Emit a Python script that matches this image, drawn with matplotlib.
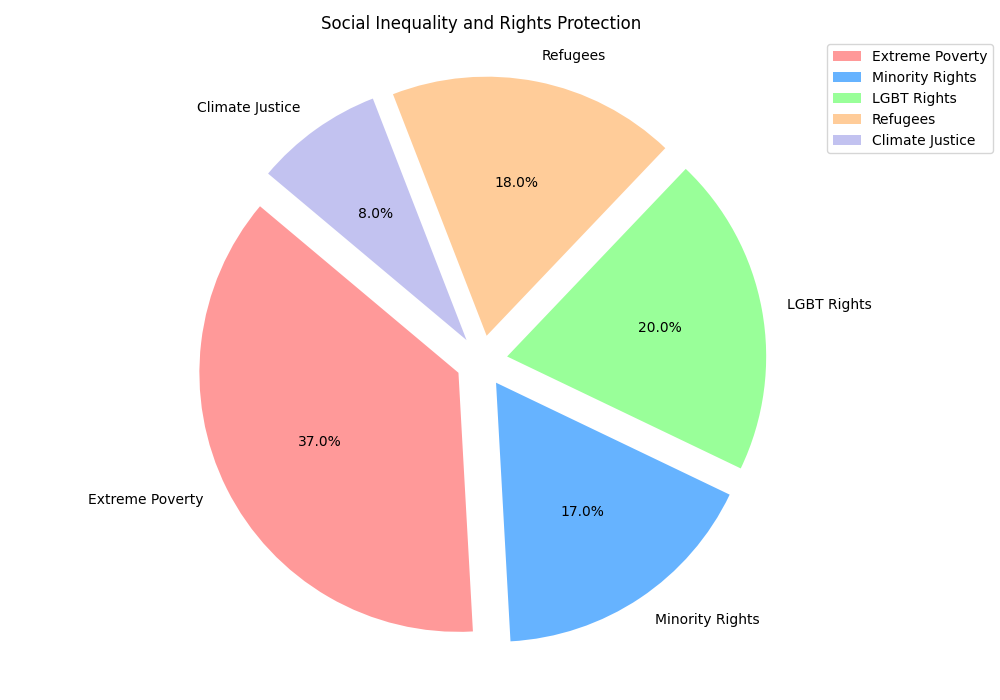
import matplotlib
matplotlib.use("Agg")
import matplotlib.pyplot as plt

categories = ["Extreme Poverty", "Minority Rights", "LGBT Rights", "Refugees", "Climate Justice"]
values = [37, 17, 20, 18, 8]
colors = ["#ff9999", "#66b3ff", "#99ff99", "#ffcc99", "#c2c2f0"]
explode = [0.1, 0.1, 0.1, 0.1, 0.1]

fig, ax = plt.subplots(figsize=(10, 7), dpi=100)
ax.pie(values, explode=explode, labels=categories, colors=colors,
       autopct="%1.1f%%", startangle=140)
ax.set_title("Social Inequality and Rights Protection")
ax.legend(loc="upper right", bbox_to_anchor=(1.3, 1))
plt.tight_layout()
plt.savefig("out.png")
